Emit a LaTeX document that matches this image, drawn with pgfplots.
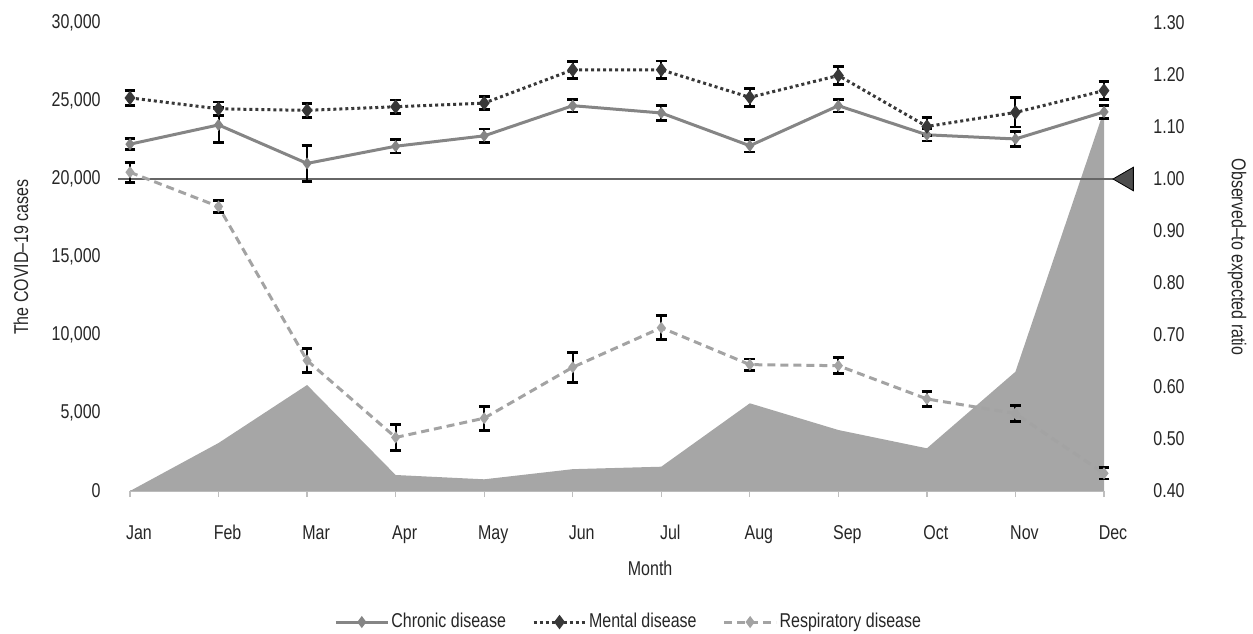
\documentclass[border=0pt]{standalone}
\usepackage{pgfplots}
\pgfplotsset{compat=1.18}
\usepackage{pgfplotstable}
\usepackage{fontspec}
\setmainfont{Liberation Sans}[FakeStretch=0.8]
\definecolor{areac}{HTML}{A6A6A6}
\definecolor{chron}{HTML}{858585}
\definecolor{ment}{HTML}{383838}
\definecolor{resp}{HTML}{A3A3A3}
\definecolor{txt}{HTML}{262626}
\definecolor{refl}{HTML}{666666}
\definecolor{tri}{HTML}{4D4D4D}

\pgfplotstableread{
x c
0 0
1 3077
2 6795
3 1026
4 750
5 1400
6 1558
7 5622
8 3910
9 2737
10 7647
11 24400
}\cases

\pgfplotstableread{
x y e
0 1.067 0.011
1 1.104 0.034
2 1.030 0.035
3 1.063 0.013
4 1.083 0.013
5 1.141 0.012
6 1.127 0.014
7 1.064 0.012
8 1.141 0.012
9 1.085 0.012
10 1.077 0.015
11 1.129 0.012
}\chronic

\pgfplotstableread{
x y e
0 1.156 0.014
1 1.135 0.013
2 1.132 0.013
3 1.139 0.013
4 1.146 0.013
5 1.210 0.016
6 1.210 0.017
7 1.157 0.017
8 1.199 0.017
9 1.101 0.017
10 1.128 0.028
11 1.170 0.017
}\mental

\pgfplotstableread{
x y e
0 1.013 0.019
1 0.947 0.011
2 0.651 0.023
3 0.503 0.025
4 0.540 0.023
5 0.638 0.029
6 0.714 0.023
7 0.643 0.011
8 0.641 0.015
9 0.577 0.014
10 0.549 0.016
11 0.434 0.011
}\resp

\pgfplotsset{
  common/.style={
    width=487pt, height=234pt, scale only axis,
    at={(0,0)}, anchor=south west,
    xmin=0, xmax=11,
    font=\color{txt},
    tick label style={font=\color{txt}},
  },
  errs/.style={
    error bars/.cd, y dir=both, y explicit,
    error bar style={black, line width=1pt, solid},
    error mark options={rotate=90, mark size=2.7pt, black, line width=1.4pt, solid},
  },
}

\begin{document}
\begin{tikzpicture}
\useasboundingbox (-65pt,-71pt) rectangle (561.5pt,245.5pt);

\begin{axis}[common,
  ymin=0, ymax=30000,
  axis x line*=bottom, axis y line*=left,
  y axis line style={draw=none},
  x axis line style={draw=black!25, line width=0.6pt},
  ytick={0,5000,10000,15000,20000,25000,30000},
  ytick style={draw=none},
  xtick={0,...,11},
  xticklabels={Jan,Feb,Mar,Apr,May,Jun,Jul,Aug,Sep,Oct,Nov,Dec},
  xtick style={draw=black!25, line width=0.6pt},
  tick align=outside, major tick length=3pt,
  scaled y ticks=false,
  yticklabel style={anchor=east, xshift=-11.5pt, inner sep=0pt,
    /pgf/number format/.cd, fixed, 1000 sep={,}, assume math mode=true},
  xticklabel style={anchor=base, yshift=-21pt, xshift=4.5pt, inner sep=0pt},
  ylabel={The COVID--19 cases},
  every axis y label/.style={at={(axis description cs:-0.112,0.5)}, rotate=90, anchor=center, font=\color{txt}},
  xlabel={Month},
  every axis x label/.style={at={(axis description cs:0.534,-0.1645)}, anchor=center, font=\color{txt}},
]
\addplot[draw=none, fill=areac] table[x=x, y=c] {\cases} \closedcycle;
\end{axis}

\begin{axis}[common,
  ymin=0.4, ymax=1.3,
  clip=false,
  axis x line=none, axis y line*=right,
  y axis line style={draw=none},
  ytick={0.4,0.5,0.6,0.7,0.8,0.9,1.0,1.1,1.2,1.3},
  ytick style={draw=none},
  xtick=\empty,
  yticklabel style={anchor=west, xshift=24.5pt, inner sep=0pt,
    /pgf/number format/.cd, fixed, fixed zerofill, precision=2, assume math mode=true},
  ylabel={Observed--to expected ratio},
  every axis y label/.style={at={(axis description cs:1.1366,0.5)}, rotate=-90, anchor=center, font=\color{txt}},
  legend style={at={(axis description cs:0.512,-0.28)}, anchor=center,
    legend columns=3, draw=none, fill=none, font=\color{txt},
    /tikz/every even column/.append style={column sep=12pt},
    nodes={inner sep=1pt}},
  legend cell align=left,
  legend image code/.code={\draw[mark repeat=2, mark phase=2, #1] plot coordinates {(0pt,0pt) (13pt,0pt) (26pt,0pt)};},
]
\addplot[refl, line width=0.8pt, forget plot] coordinates {(-0.136,1.0) (11.1,1.0)};
\addplot[only marks, mark=triangle*, mark size=6.8pt, mark options={rotate=90, fill=tri, draw=none}, forget plot] coordinates {(11.255,1.0)};

\addplot[chron, line width=1.5pt, mark=diamond*, mark size=1.8pt, mark options={solid, fill=chron, draw=chron},
  errs] table[x=x, y=y, y error=e] {\chronic};
\addlegendentry{Chronic disease}
\addplot[ment, line width=1.5pt, dash pattern=on 1.5pt off 1.5pt, mark=diamond*, mark size=2.4pt, mark options={solid, fill=ment, draw=ment},
  errs] table[x=x, y=y, y error=e] {\mental};
\addlegendentry{Mental disease}
\addplot[resp, line width=1.5pt, dash pattern=on 4pt off 2.5pt, mark=diamond*, mark size=1.8pt, mark options={solid, fill=resp, draw=resp},
  errs] table[x=x, y=y, y error=e] {\resp};
\addlegendentry{Respiratory disease}
\end{axis}
\end{tikzpicture}
\end{document}
